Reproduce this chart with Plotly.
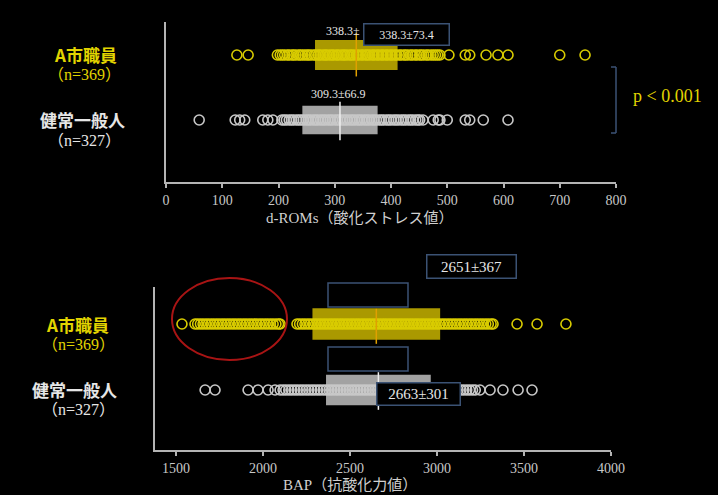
import plotly.graph_objects as go

W, H = 718, 495

groups = ["A市職員", "健常一般人"]
group_n = ["（n=369）", "（n=327）"]

# d-ROMs summary (mean, SD)
drom_mean = [338.3, 309.3]
drom_sd = [73.4, 66.9]
# BAP summary
bap_mean = [2651, 2663]
bap_sd = [367, 301]

# visible individual points
drom_a = [126, 146, 198, 203, 207, 211, 216, 219, 224, 227, 231, 236, 239, 243, 247, 251, 254, 258,
          263, 266, 271, 274, 279, 283, 286, 291, 295, 298, 303, 306, 311, 315, 318, 322, 327, 330,
          334, 339, 342, 347, 350, 355, 358, 362, 367, 370, 375, 378, 383, 386, 391, 394, 399, 402,
          407, 410, 415, 418, 423, 426, 430, 435, 438, 443, 446, 451, 454, 458, 463, 466, 471, 475,
          479, 483, 487, 503, 532, 540, 569, 590, 608, 700, 745]
drom_b = [59, 123, 131, 140, 172, 181, 190, 206, 210, 214, 219, 223, 227, 232, 236, 240, 244, 249,
          253, 257, 262, 266, 270, 275, 279, 283, 288, 292, 296, 301, 305, 309, 314, 318, 322, 327,
          331, 335, 340, 344, 348, 353, 357, 361, 366, 370, 374, 379, 383, 387, 392, 396, 400, 405,
          409, 413, 418, 422, 426, 431, 435, 439, 444, 448, 451, 457, 475, 484, 487, 500, 532, 540,
          564, 608]
bap_a = [1534, 1609, 1624, 1640, 1655, 1671, 1686, 1702, 1717, 1733, 1748, 1764, 1779, 1795, 1810,
         1826, 1841, 1857, 1872, 1888, 1903, 1919, 1934, 1950, 1965, 1981, 1996, 2012, 2027, 2043,
         2058, 2074, 2089, 2098, 2195, 2210, 2226, 2241, 2257, 2272, 2288, 2303, 2319, 2334, 2350,
         2365, 2381, 2396, 2412, 2427, 2443, 2458, 2474, 2489, 2505, 2520, 2536, 2551, 2567, 2582,
         2598, 2613, 2629, 2644, 2660, 2675, 2691, 2706, 2722, 2737, 2753, 2768, 2784, 2799, 2815,
         2830, 2846, 2861, 2877, 2892, 2908, 2923, 2939, 2954, 2970, 2985, 3001, 3016, 3032, 3047,
         3063, 3078, 3094, 3109, 3125, 3140, 3156, 3171, 3187, 3202, 3218, 3233, 3249, 3264, 3280,
         3295, 3311, 3322, 3460, 3575, 3741]
bap_b = [1667, 1724, 1914, 1971, 2029, 2069, 2098, 2115, 2131, 2148, 2164, 2181, 2197, 2214, 2230,
         2247, 2263, 2280, 2296, 2313, 2329, 2346, 2362, 2379, 2395, 2412, 2428, 2445, 2461, 2478,
         2494, 2511, 2527, 2544, 2560, 2577, 2593, 2610, 2626, 2643, 2659, 2676, 2692, 2709, 2725,
         2742, 2758, 2775, 2791, 2808, 2824, 2841, 2857, 2874, 2890, 2907, 2923, 2940, 2956, 2973,
         2989, 3006, 3022, 3039, 3055, 3072, 3088, 3105, 3121, 3138, 3154, 3171, 3187, 3204, 3220,
         3247, 3305, 3379, 3466, 3546]

YEL = "#d9cc00"
YEL_BOX = "rgba(200,180,0,0.85)"
WHT = "#c8c8c8"
WHT_BOX = "rgba(190,190,190,0.85)"
AXC = "#b4b4b4"
BR = "#3b5274"
SERIF = "Liberation Serif, Noto Sans CJK JP"
GOTH = "Noto Sans CJK JP"

fig = go.Figure()

def pts(xs, yv, color, xa, ya):
    fig.add_trace(go.Scatter(
        x=xs, y=[yv] * len(xs), mode="markers", xaxis=xa, yaxis=ya,
        marker=dict(symbol="circle-open", size=10, color=color, line=dict(width=1.6, color=color)),
        showlegend=False, hoverinfo="skip"))

pts(drom_a, 1, YEL, "x", "y")
pts(drom_b, 0, WHT, "x", "y")
pts(bap_a, 1, YEL, "x2", "y2")
pts(bap_b, 0, WHT, "x2", "y2")

shapes = []
def box(mean, sd, yv, fill, xr, yr, half, lcol, lo, hi):
    shapes.append(dict(type="rect", xref=xr, yref=yr, x0=mean - sd, x1=mean + sd,
                       y0=yv - half, y1=yv + half, fillcolor=fill, line=dict(width=0), layer="below"))
    shapes.append(dict(type="line", xref=xr, yref=yr, x0=mean, x1=mean, y0=yv - lo, y1=yv + hi,
                       line=dict(color=lcol, width=1.5), layer="above"))

box(drom_mean[0], drom_sd[0], 1, YEL_BOX, "x", "y", 0.23, "#e0a000", 0.33, 0.34)
box(drom_mean[1], drom_sd[1], 0, WHT_BOX, "x", "y", 0.22, "#eeeeee", 0.31, 0.28)
box(bap_mean[0], bap_sd[0], 1, YEL_BOX, "x2", "y2", 0.24, "#e0a000", 0.30, 0.23)
box(bap_mean[1], bap_sd[1], 0, WHT_BOX, "x2", "y2", 0.23, "#eeeeee", 0.30, 0.27)

def px(x):
    return x / W
def py(y):
    return 1 - y / H

# significance bracket
shapes += [
    dict(type="line", xref="paper", yref="paper", x0=px(616), x1=px(616), y0=py(67), y1=py(133), line=dict(color=BR, width=1.5)),
    dict(type="line", xref="paper", yref="paper", x0=px(611), x1=px(616), y0=py(67), y1=py(67), line=dict(color=BR, width=1.5)),
    dict(type="line", xref="paper", yref="paper", x0=px(611), x1=px(616), y0=py(133), y1=py(133), line=dict(color=BR, width=1.5)),
]
# empty frames in BAP panel
shapes += [
    dict(type="rect", xref="paper", yref="paper", x0=px(328), x1=px(408), y0=py(307), y1=py(283), line=dict(color=BR, width=1.5)),
    dict(type="rect", xref="paper", yref="paper", x0=px(328), x1=px(408), y0=py(371), y1=py(347), line=dict(color=BR, width=1.5)),
]
# red ellipse
shapes.append(dict(type="circle", xref="paper", yref="paper", x0=px(172), x1=px(287), y0=py(360), y1=py(278),
                   line=dict(color="#a81414", width=2)))

ann = []
def txt(x, y, s, size, color, family=SERIF, **kw):
    ann.append(dict(x=px(x), y=py(y), xref="paper", yref="paper", text=s, showarrow=False,
                    font=dict(size=size, color=color, family=family), xanchor="center", yanchor="middle", **kw))

# group labels
for (ya, yn, xa, xb, xn) in [(54, 75, 85, 82, 84), (324, 344, 77, 74, 78)]:
    txt(xa, ya, "<b>" + groups[0] + "</b>", 17, "#e2d400", GOTH)
    txt(xn, yn, group_n[0], 16, "#e2d400", SERIF)
    txt(xb, ya + 65, "<b>" + groups[1] + "</b>", 17, "#e6e6e6", GOTH)
    txt(xn, yn + 65, group_n[1], 16, "#e6e6e6", SERIF)

# value labels
txt(343, 31, "%.1f±" % drom_mean[0], 12, "#e6e6e6")
txt(406, 34, "%.1f±%.1f" % (drom_mean[0], drom_sd[0]), 12, "#e6e6e6",
    bgcolor="black", bordercolor=BR, borderwidth=1.5, width=82, height=18)
txt(338, 94, "%.1f±%.1f" % (drom_mean[1], drom_sd[1]), 12, "#e6e6e6")
txt(472, 266, "%d±%d" % (bap_mean[0], bap_sd[0]), 15, "#e6e6e6",
    bgcolor="black", bordercolor=BR, borderwidth=1.5, width=86, height=20)
txt(418, 394, "%d±%d" % (bap_mean[1], bap_sd[1]), 15, "#e6e6e6",
    bgcolor="black", bordercolor=BR, borderwidth=1.5, width=80, height=19)

txt(667, 96, "p < 0.001", 18, "#e2d400")

# axis titles
txt(360, 218, "d-ROMs（酸化ストレス値）", 15, "#d0d0d0")
txt(350, 485, "BAP（抗酸化力値）", 15, "#d0d0d0")

axis_common = dict(showgrid=False, zeroline=False, showline=True, linecolor=AXC, linewidth=2,
                   ticks="outside", ticklen=4, tickwidth=1.5, tickcolor=AXC, automargin=False,
                   tickfont=dict(family=SERIF, size=14, color="#c8c8c8"))
yaxis_common = dict(showgrid=False, zeroline=False, showline=True, linecolor=AXC, linewidth=2,
                    showticklabels=False, ticks="", automargin=False)

fig.update_layout(
    width=W, height=H, margin=dict(l=0, r=0, t=0, b=0, autoexpand=False),
    paper_bgcolor="black", plot_bgcolor="black",
    showlegend=False,
    xaxis=dict(domain=[px(166), px(616)], range=[0, 800], dtick=100, anchor="y", **axis_common),
    yaxis=dict(domain=[py(182), py(22)], range=[-0.954, 1.508], anchor="x", **yaxis_common),
    xaxis2=dict(domain=[px(155), px(611)], range=[1379, 4000], tickvals=[1500, 2000, 2500, 3000, 3500, 4000],
                anchor="y2", **axis_common),
    yaxis2=dict(domain=[py(450), py(287)], range=[-0.909, 1.561], anchor="x2", **yaxis_common),
    shapes=shapes, annotations=ann,
)

fig.write_html("out.html", config={"displayModeBar": False},
               post_script="document.body.style.margin='0px';document.body.style.background='black';document.body.style.overflow='hidden';")
